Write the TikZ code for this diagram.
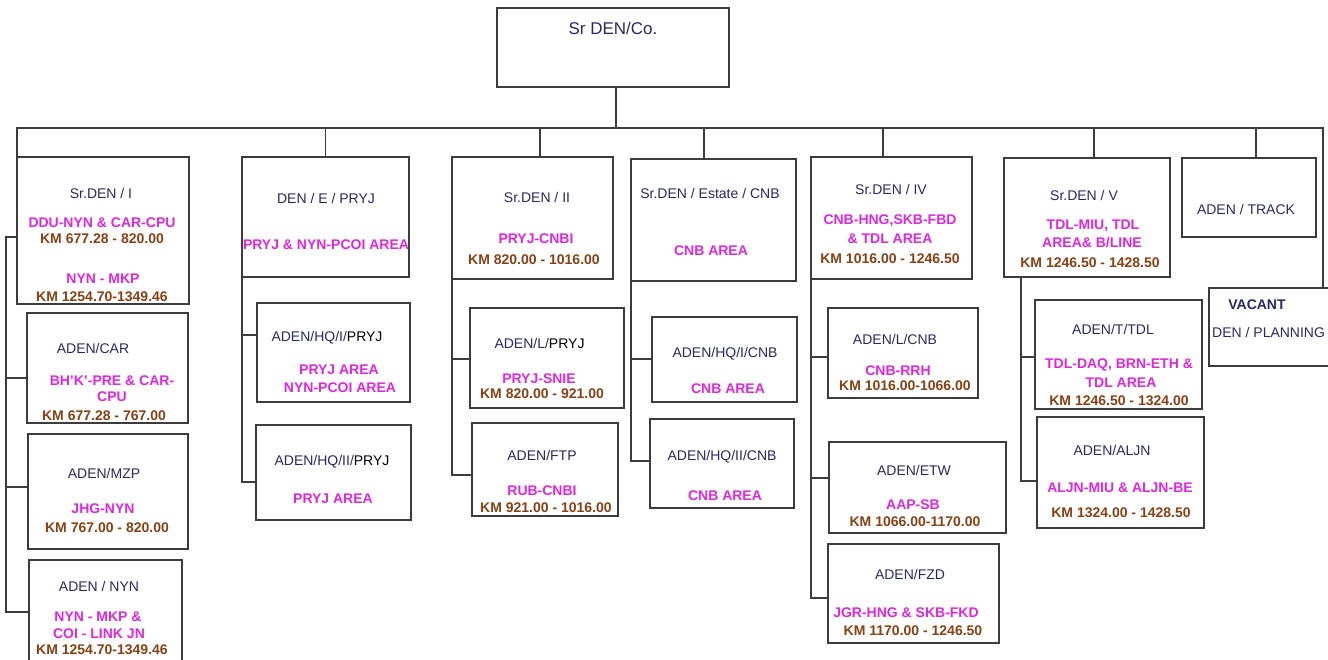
\documentclass[tikz,border=0pt]{standalone}
\usepackage{fontspec}
\setmainfont{Liberation Sans}
\definecolor{cNavy}{RGB}{40,40,100}
\definecolor{cMag}{RGB}{220,40,220}
\definecolor{cBrown}{RGB}{135,65,20}
\definecolor{cLine}{RGB}{60,60,60}
\begin{document}
\begin{tikzpicture}[x=1pt,y=-1pt,
  box/.style={draw=cLine, line width=1.4pt, anchor=north west, inner sep=0pt, outer sep=0pt},
  conn/.style={draw=cLine, line width=1.4pt},
  lab/.style={inner sep=0pt, text height=10pt, text depth=0pt, font=\fontsize{14}{16}\selectfont},
  ttl/.style={lab, text=cNavy},
  area/.style={lab, text=cMag, font=\bfseries\fontsize{14}{16}\selectfont},
  km/.style={lab, text=cBrown, font=\bfseries\fontsize{14}{16}\selectfont}]
\useasboundingbox (0,0) rectangle (1328,659);
% boxes
\node[box, minimum width=232pt, minimum height=79pt] (top) at (497,8) {};
\node[box, minimum width=172pt, minimum height=147pt] (b1) at (17,157) {};
\node[box, minimum width=161pt, minimum height=110pt] (b1a) at (27,313) {};
\node[box, minimum width=160pt, minimum height=115pt] (b1b) at (28,434) {};
\node[box, minimum width=153pt, minimum height=110pt] (b1c) at (29,560) {};
\node[box, minimum width=167pt, minimum height=120pt] (b2) at (242,157) {};
\node[box, minimum width=153pt, minimum height=99pt] (b2a) at (257,303) {};
\node[box, minimum width=155pt, minimum height=95pt] (b2b) at (256,425) {};
\node[box, minimum width=161pt, minimum height=122pt] (b3) at (452,157) {};
\node[box, minimum width=154pt, minimum height=100pt] (b3a) at (470,308) {};
\node[box, minimum width=146pt, minimum height=93pt] (b3b) at (472,423) {};
\node[box, minimum width=165pt, minimum height=122pt] (b4) at (631,159) {};
\node[box, minimum width=145pt, minimum height=85pt] (b4a) at (652,317) {};
\node[box, minimum width=144pt, minimum height=89pt] (b4b) at (650,419) {};
\node[box, minimum width=161pt, minimum height=122pt] (b5) at (811,157) {};
\node[box, minimum width=150pt, minimum height=90pt] (b5a) at (828,308) {};
\node[box, minimum width=177pt, minimum height=91pt] (b5b) at (829,442) {};
\node[box, minimum width=171pt, minimum height=99pt] (b5c) at (828,544) {};
\node[box, minimum width=166pt, minimum height=119pt] (b6) at (1004,158) {};
\node[box, minimum width=167pt, minimum height=109pt] (b6a) at (1035,300) {};
\node[box, minimum width=167pt, minimum height=111pt] (b6b) at (1037,417) {};
\node[box, minimum width=134pt, minimum height=79pt] (b7) at (1182,158) {};
\node[box, minimum width=130pt, minimum height=78pt] (b8) at (1209,288) {};
% bus
\coordinate (busR) at (1323,128);
\draw[conn] ([xshift=3pt]top.south) -- ([xshift=3pt]top.south |- busR);
\draw[conn] (b1.north west) |- (busR) -- (busR |- b8.north);
\draw[conn] (b2.north) -- (b2.north |- busR);
\draw[conn] ([xshift=7.5pt]b3.north) -- ([xshift=7.5pt]b3.north |- busR);
\draw[conn] ([xshift=-9.5pt]b4.north) -- ([xshift=-9.5pt]b4.north |- busR);
\draw[conn] ([xshift=-8.5pt]b5.north) -- ([xshift=-8.5pt]b5.north |- busR);
\draw[conn] ([xshift=7pt]b6.north) -- ([xshift=7pt]b6.north |- busR);
\draw[conn] ([xshift=7pt]b7.north) -- ([xshift=7pt]b7.north |- busR);
% trunk 1
\coordinate (t1) at (6,237);
\coordinate (t1a) at (6,378);
\coordinate (t1b) at (6,487);
\coordinate (t1c) at (6,612);
\draw[conn] (t1 -| b1.west) -- (t1) -- (t1c) -- (t1c -| b1c.west);
\draw[conn] (t1a) -- (t1a -| b1a.west);
\draw[conn] (t1b) -- (t1b -| b1b.west);
% trunk 2
\coordinate (t2a) at (242,335);
\coordinate (t2b) at (242,482);
\draw[conn] (b2.south west) -- (t2b) -- (t2b -| b2b.west);
\draw[conn] (t2a) -- (t2a -| b2a.west);
% trunk 3
\coordinate (t3a) at (452,359);
\coordinate (t3b) at (452,475);
\draw[conn] (b3.south west) -- (t3b) -- (t3b -| b3b.west);
\draw[conn] (t3a) -- (t3a -| b3a.west);
% trunk 4
\coordinate (t4a) at (631,359);
\coordinate (t4b) at (631,461);
\draw[conn] (b4.south west) -- (t4b) -- (t4b -| b4b.west);
\draw[conn] (t4a) -- (t4a -| b4a.west);
% trunk 5
\coordinate (t5a) at (811,357);
\coordinate (t5b) at (811,478);
\coordinate (t5c) at (811,598);
\draw[conn] (b5.south west) -- (t5c) -- (t5c -| b5c.west);
\draw[conn] (t5a) -- (t5a -| b5a.west);
\draw[conn] (t5b) -- (t5b -| b5b.west);
% trunk 6
\coordinate (t6a) at (1021,357);
\coordinate (t6b) at (1021,481);
\draw[conn] (t6a |- b6.south) -- (t6b) -- (t6b -| b6b.west);
\draw[conn] (t6a) -- (t6a -| b6a.west);
% labels
\node[lab, text=cNavy, text height=12.2pt, font=\fontsize{17}{20}\selectfont] (lTop) at (613,28) {Sr DEN/Co.};
\node[ttl] (l1) at (101,193) {Sr.DEN / I};
\node[area] (l1m) at (102,222) {DDU-NYN \& CAR-CPU};
\node[km] (l1k) at (102,238) {KM 677.28 - 820.00};
\node[area] (l1m2) at (103,278) {NYN - MKP};
\node[km] (l1k2) at (102,296) {KM 1254.70-1349.46};
\node[ttl] (l1a) at (93,348) {ADEN/CAR};
\node[area] (l1am) at (112,380) {BH'K'-PRE \& CAR-};
\node[area] (l1am2) at (112,396) {CPU};
\node[km] (l1ak) at (104,415) {KM 677.28 - 767.00};
\node[ttl] (l1b) at (104,473) {ADEN/MZP};
\node[area] (l1bm) at (103,508) {JHG-NYN};
\node[km] (l1bk) at (107,527) {KM 767.00 - 820.00};
\node[ttl] (l1c) at (99,586) {ADEN / NYN};
\node[area] (l1cm) at (98,616) {NYN - MKP \&};
\node[area] (l1cm2) at (99,633) {COI - LINK JN};
\node[km] (l1ck) at (102,649) {KM 1254.70-1349.46};
\node[ttl] (l2) at (326,198) {DEN / E / PRYJ};
\node[area] (l2m) at (326,244) {PRYJ \& NYN-PCOI AREA};
\node[ttl] (l2a) at (327,336) {ADEN/HQ/I/\textcolor{black}{PRYJ}};
\node[area] (l2am) at (339,369) {PRYJ AREA};
\node[area] (l2am2) at (340,387) {NYN-PCOI AREA};
\node[ttl] (l2b) at (332,460) {ADEN/HQ/II/\textcolor{black}{PRYJ}};
\node[area] (l2bm) at (333,498) {PRYJ AREA};
\node[ttl] (l3) at (537,197) {Sr.DEN / II};
\node[area] (l3m) at (536,238) {PRYJ-CNBI};
\node[km] (l3k) at (534,259) {KM 820.00 - 1016.00};
\node[ttl] (l3a) at (539.5,343) {ADEN/L/\textcolor{black}{PRYJ}};
\node[area] (l3am) at (539,378) {PRYJ-SNIE};
\node[km] (l3ak) at (542,393) {KM 820.00 - 921.00};
\node[ttl] (l3b) at (542,455) {ADEN/FTP};
\node[area] (l3bm) at (542,490) {RUB-CNBI};
\node[km] (l3bk) at (546,507) {KM 921.00 - 1016.00};
\node[ttl] (l4) at (710,193) {Sr.DEN / Estate / CNB};
\node[area] (l4m) at (711,250) {CNB AREA};
\node[ttl] (l4a) at (725,352) {ADEN/HQ/I/CNB};
\node[area] (l4am) at (728,388) {CNB AREA};
\node[ttl] (l4b) at (722,455) {ADEN/HQ/II/CNB};
\node[area] (l4bm) at (725,495) {CNB AREA};
\node[ttl] (l5) at (891,189) {Sr.DEN / IV};
\node[area] (l5m) at (890,219) {CNB-HNG,SKB-FBD};
\node[area] (l5m2) at (890,238) {\& TDL AREA};
\node[km] (l5k) at (890,258) {KM 1016.00 - 1246.50};
\node[ttl] (l5a) at (895,339) {ADEN/L/CNB};
\node[area] (l5am) at (898,370) {CNB-RRH};
\node[km] (l5ak) at (905,385) {KM 1016.00-1066.00};
\node[ttl] (l5b) at (914,470) {ADEN/ETW};
\node[area] (l5bm) at (913,504) {AAP-SB};
\node[km] (l5bk) at (915,521) {KM 1066.00-1170.00};
\node[ttl] (l5c) at (910,574) {ADEN/FZD};
\node[area] (l5cm) at (906,612) {JGR-HNG \& SKB-FKD};
\node[km] (l5ck) at (913,630) {KM 1170.00 - 1246.50};
\node[ttl] (l6) at (1084,195) {Sr.DEN / V};
\node[area] (l6m) at (1093,224) {TDL-MIU, TDL};
\node[area] (l6m2) at (1092,242) {AREA\& B/LINE};
\node[km] (l6k) at (1090,262) {KM 1246.50 - 1428.50};
\node[ttl] (l6a) at (1113,329) {ADEN/T/TDL};
\node[area] (l6am) at (1119,363) {TDL-DAQ, BRN-ETH \&};
\node[area] (l6am2) at (1121,382) {TDL AREA};
\node[km] (l6ak) at (1119,400) {KM 1246.50 - 1324.00};
\node[ttl] (l6b) at (1112,450) {ADEN/ALJN};
\node[area] (l6bm) at (1120,487) {ALJN-MIU \& ALJN-BE};
\node[km] (l6bk) at (1121,512) {KM 1324.00 - 1428.50};
\node[ttl] (l7) at (1246,209) {ADEN / TRACK};
\node[lab, text=cNavy, font=\bfseries\fontsize{14}{16}\selectfont] (l8) at (1257,304) {VACANT};
\node[ttl, anchor=west] (l8b) at (1212,332) {DEN / PLANNING};
\end{tikzpicture}
\end{document}
